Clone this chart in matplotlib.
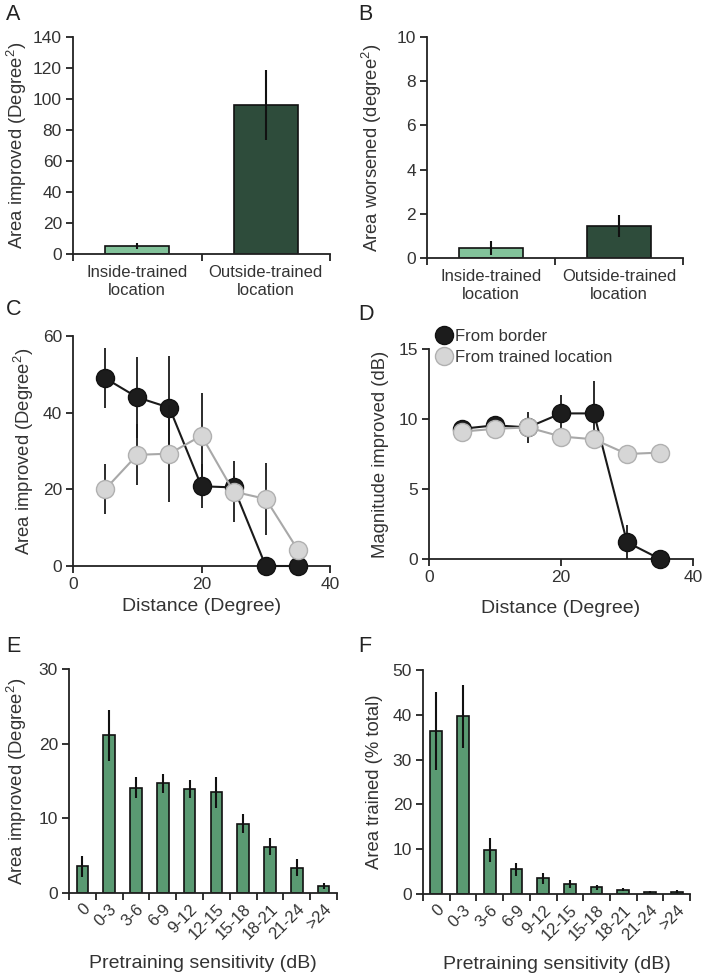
import matplotlib
matplotlib.use("Agg")
import matplotlib.pyplot as plt
from matplotlib.lines import Line2D
import numpy as np

plt.rcParams['font.family'] = ['Liberation Sans', 'DejaVu Sans']
plt.rcParams['mathtext.fontset'] = 'custom'
plt.rcParams['mathtext.rm'] = 'Liberation Sans'
plt.rcParams['mathtext.it'] = 'Liberation Sans:italic'
plt.rcParams['mathtext.bf'] = 'Liberation Sans:bold'
plt.rcParams['text.color'] = '#333333'
plt.rcParams['axes.labelcolor'] = '#333333'
plt.rcParams['xtick.color'] = '#222222'
plt.rcParams['ytick.color'] = '#222222'
plt.rcParams['xtick.labelcolor'] = '#333333'
plt.rcParams['ytick.labelcolor'] = '#333333'

# ---------------- data ----------------
loc_labels = ["Inside-trained\nlocation", "Outside-trained\nlocation"]
area_improved = [5.0, 96.0]
area_improved_err = [2.0, 22.5]
area_worsened = [0.45, 1.45]
area_worsened_err = [0.3, 0.5]

distance = [5, 10, 15, 20, 25, 30, 35]
c_border = [49.0, 44.0, 41.3, 20.8, 20.5, 0.0, 0.0]
c_border_err = [7.8, 10.5, 13.5, 5.7, 3.0, 0.0, 0.0]
c_trained = [20.0, 29.0, 29.3, 34.0, 19.4, 17.5, 4.2]
c_trained_err = [6.5, 8.0, 12.6, 11.0, 8.0, 9.4, 0.0]

d_border = [9.3, 9.55, 9.4, 10.4, 10.4, 1.2, 0.0]
d_border_err = [0.3, 0.3, 0.3, 1.3, 2.3, 1.2, 0.0]
d_trained = [9.1, 9.3, 9.4, 8.75, 8.55, 7.5, 7.6]
d_trained_err = [0.3, 0.3, 1.1, 0.3, 0.3, 0.2, 0.2]

sens_labels = ["0", "0-3", "3-6", "6-9", "9-12", "12-15", "15-18", "18-21", "21-24", ">24"]
e_vals = [3.6, 21.1, 14.1, 14.7, 13.9, 13.5, 9.3, 6.2, 3.4, 0.9]
e_err = [1.4, 3.4, 1.4, 1.3, 1.2, 2.1, 1.3, 1.1, 1.1, 0.4]
f_vals = [36.4, 39.7, 9.75, 5.5, 3.5, 2.2, 1.5, 1.0, 0.5, 0.5]
f_err = [8.7, 7.0, 2.7, 1.5, 1.2, 0.9, 0.6, 0.3, 0.2, 0.4]

# ---------------- style ----------------
light_green = '#82c29a'
dark_green = '#2e4c3b'
mid_green = '#5a9a72'
black_m = '#1c1c1c'
gray_m = '#d6d6d6'
gray_line = '#a8a8a8'
FS_YTICK = 12.5
FS_XTICK = 12
FS_LAB = 13.3
FS_LET = 15.5

W, H = 704, 976
fig = plt.figure(figsize=(W / 100, H / 100), dpi=100)


def ax_px(l, r, t, b):
    return fig.add_axes([l / W, 1 - b / H, (r - l) / W, (b - t) / H])


def style(ax):
    for s in ['top', 'right']:
        ax.spines[s].set_visible(False)
    for s in ['left', 'bottom']:
        ax.spines[s].set_linewidth(1.3)
        ax.spines[s].set_color('#222222')
    ax.tick_params(direction='out', length=5, width=1.3, pad=3)
    ax.tick_params(axis='y', labelsize=FS_YTICK)
    ax.tick_params(axis='x', labelsize=FS_YTICK)


def cat_axis(ax, labels, rotate=False):
    n = len(labels)
    ax.set_xlim(-0.5, n - 0.5)
    ax.set_xticks(np.arange(-0.5, n, 1.0))
    ax.set_xticklabels([])
    ax.set_xticks(np.arange(n), minor=True)
    if rotate:
        ax.set_xticklabels(labels, minor=True, rotation=45, ha='right', va='top',
                           rotation_mode='anchor', fontsize=FS_XTICK)
        ax.tick_params(axis='x', which='minor', length=0, pad=6)
    else:
        ax.set_xticklabels(labels, minor=True, fontsize=FS_XTICK)
        ax.tick_params(axis='x', which='minor', length=0, pad=8)


err_kw = dict(ecolor='#111111', elinewidth=1.5, capsize=0)

# ---- A ----
axA = ax_px(73, 330, 37, 254)
style(axA)
xa = np.arange(len(area_improved))
axA.bar(xa, area_improved, width=0.5, color=[light_green, dark_green],
        edgecolor='#111111', linewidth=1.2, yerr=area_improved_err, error_kw=err_kw)
cat_axis(axA, loc_labels)
axA.set_ylim(0, 140)
axA.set_yticks(range(0, 141, 20))
axA.set_ylabel("Area improved (Degree$^2$)", fontsize=FS_LAB, labelpad=3)

# ---- B ----
axB = ax_px(427, 683, 37, 258)
style(axB)
axB.bar(xa, area_worsened, width=0.5, color=[light_green, dark_green],
        edgecolor='#111111', linewidth=1.2, yerr=area_worsened_err, error_kw=err_kw)
cat_axis(axB, loc_labels)
axB.set_ylim(0, 10)
axB.set_yticks(range(0, 11, 2))
axB.set_ylabel("Area worsened (degree$^2$)", fontsize=FS_LAB, labelpad=9)

# ---- C ----
axC = ax_px(73, 330, 336, 566)
style(axC)
axC.errorbar(distance, c_border, yerr=c_border_err, color='#1a1a1a', lw=1.5,
             marker='o', ms=13, mfc=black_m, mec='#111111', mew=1, ecolor='#1a1a1a',
             elinewidth=1.3, capsize=0, zorder=3, clip_on=False)
axC.errorbar(distance, c_trained, yerr=c_trained_err, color=gray_line, lw=1.5,
             marker='o', ms=13, mfc=gray_m, mec='#b0b0b0', mew=1, ecolor='#1a1a1a',
             elinewidth=1.3, capsize=0, zorder=4, clip_on=False)
axC.set_xlim(0, 40)
axC.set_ylim(0, 60)
axC.set_xticks([0, 20, 40])
axC.set_yticks([0, 20, 40, 60])
axC.set_xlabel("Distance (Degree)", fontsize=FS_LAB + 0.7, labelpad=4)
axC.set_ylabel("Area improved (Degree$^2$)", fontsize=FS_LAB, labelpad=5)

# ---- D ----
axD = ax_px(429, 693, 349, 559)
style(axD)
axD.errorbar(distance, d_border, yerr=d_border_err, color='#1a1a1a', lw=1.5,
             marker='o', ms=13, mfc=black_m, mec='#111111', mew=1, ecolor='#1a1a1a',
             elinewidth=1.3, capsize=0, zorder=3, clip_on=False)
axD.errorbar(distance, d_trained, yerr=d_trained_err, color=gray_line, lw=1.5,
             marker='o', ms=13, mfc=gray_m, mec='#b0b0b0', mew=1, ecolor='#1a1a1a',
             elinewidth=1.3, capsize=0, zorder=4, clip_on=False)
axD.set_xlim(0, 40)
axD.set_ylim(0, 15)
axD.set_xticks([0, 20, 40])
axD.set_yticks([0, 5, 10, 15])
axD.set_xlabel("Distance (Degree)", fontsize=FS_LAB + 0.7, labelpad=11)
axD.set_ylabel("Magnitude improved (dB)", fontsize=FS_LAB, labelpad=7)
handles = [Line2D([], [], ls='none', marker='o', ms=13, mfc=black_m, mec='#111111'),
           Line2D([], [], ls='none', marker='o', ms=13, mfc=gray_m, mec='#b0b0b0')]
fig.legend(handles, ["From border", "From trained location"], loc='upper left',
           bbox_to_anchor=(433 / W, 1 - 329 / H), frameon=False, fontsize=12,
           handletextpad=0.0, labelspacing=0.35, borderaxespad=0, borderpad=0,
           handlelength=1.3)

# ---- E ----
axE = ax_px(69, 337, 669, 893)
style(axE)
xe = np.arange(len(e_vals))
axE.bar(xe, e_vals, width=0.44, color=mid_green, edgecolor='#111111', linewidth=1.2,
        yerr=e_err, error_kw=err_kw)
cat_axis(axE, sens_labels, rotate=True)
axE.set_ylim(0, 30)
axE.set_yticks([0, 10, 20, 30])
axE.set_xlabel("Pretraining sensitivity (dB)", fontsize=FS_LAB + 0.7, labelpad=9)
axE.set_ylabel("Area improved (Degree$^2$)", fontsize=FS_LAB, labelpad=7)

# ---- F ----
axF = ax_px(423, 690, 670, 894)
style(axF)
axF.bar(xe, f_vals, width=0.44, color=mid_green, edgecolor='#111111', linewidth=1.2,
        yerr=f_err, error_kw=err_kw)
cat_axis(axF, sens_labels, rotate=True)
axF.set_ylim(0, 50)
axF.set_yticks([0, 10, 20, 30, 40, 50])
axF.set_xlabel("Pretraining sensitivity (dB)", fontsize=FS_LAB + 0.7, labelpad=9)
axF.set_ylabel("Area trained (% total)", fontsize=FS_LAB, labelpad=7)

# ---- panel letters ----
for letter, x, y in [("A", 6, 4), ("B", 358, 4), ("C", 6, 299), ("D", 358, 304),
                     ("E", 6, 636), ("F", 358, 636)]:
    fig.text(x / W, 1 - y / H, letter, fontsize=FS_LET, ha='left', va='top', color='#222222')

fig.savefig("out.png", dpi=100)
